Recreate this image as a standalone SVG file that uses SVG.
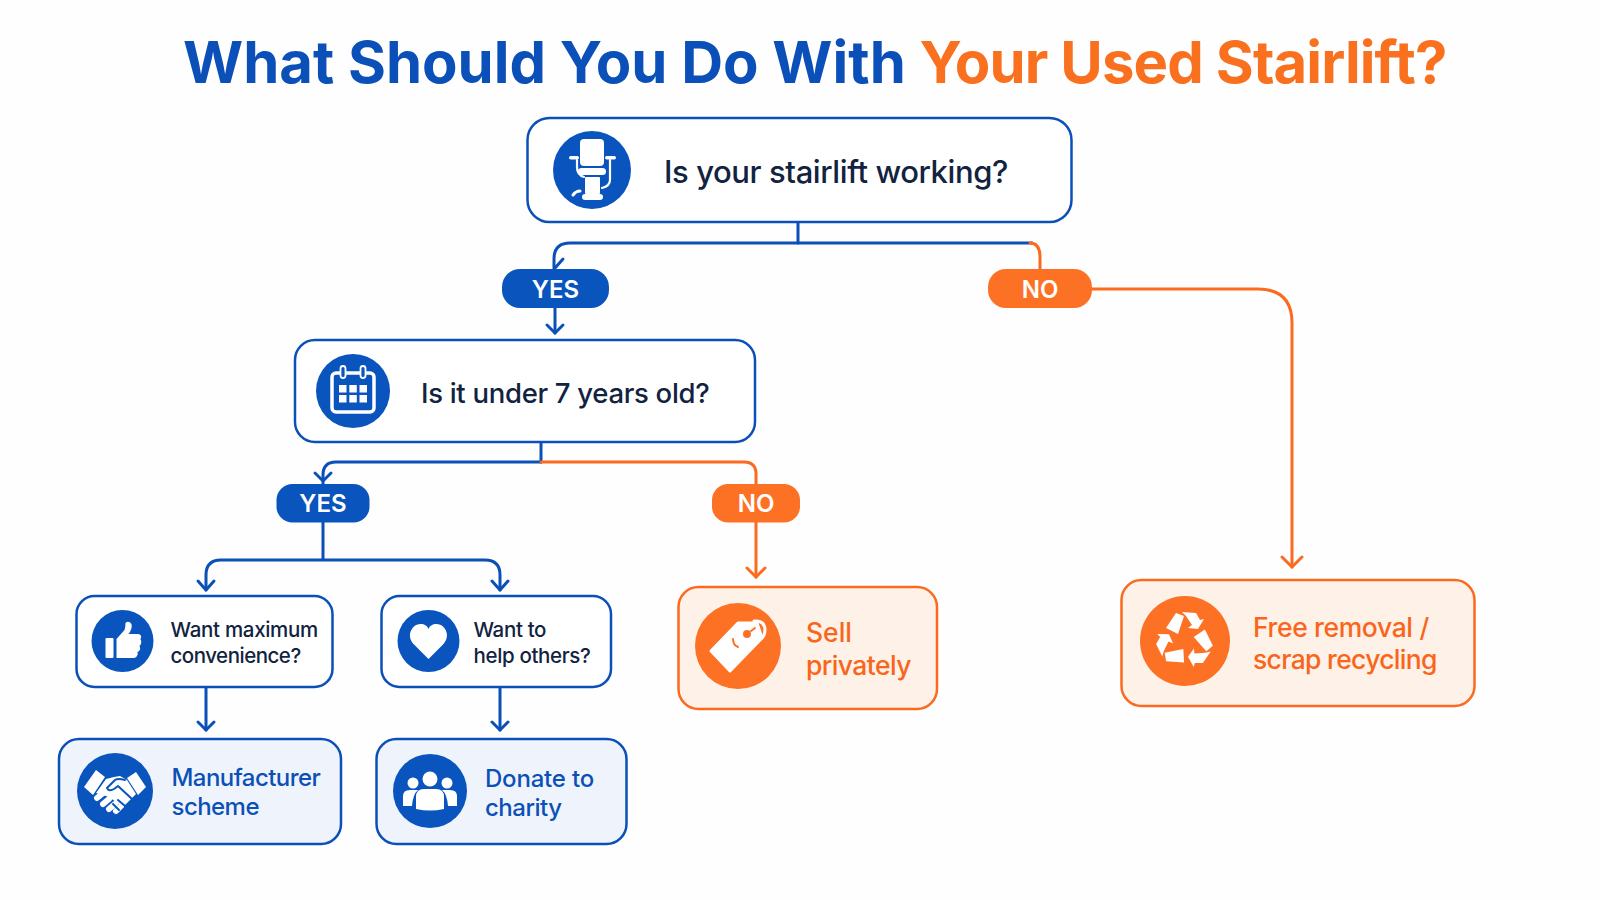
<svg xmlns="http://www.w3.org/2000/svg" width="1600" height="900" viewBox="0 0 1600 900">
<style>
text{font-family:"Inter","Noto Sans",sans-serif}
.title{font-size:58px;font-weight:700}
.q{font-weight:500;fill:#12233F}
.rb{font-weight:500;fill:#0B50B8}
.ro{font-weight:500;fill:#F9661B}
.pill{font-size:24px;font-weight:600;fill:#fff;text-anchor:middle}
.box{fill:#fff;stroke:#0B50B8;stroke-width:2.5}
.boxb{fill:#EFF4FC;stroke:#0B50B8;stroke-width:2.5}
.boxo{fill:#FEF1E8;stroke:#FB6A1E;stroke-width:2.5}
.cb{fill:#0A54BE}
.co{fill:#FD7125}
.w{fill:#fff}
.bl{fill:none;stroke:#0B50B8;stroke-width:3;stroke-linecap:round;stroke-linejoin:round}
.or{fill:none;stroke:#FB6A1E;stroke-width:3;stroke-linecap:round;stroke-linejoin:round}
.ws{fill:none;stroke:#fff;stroke-linecap:round;stroke-linejoin:round}
</style>
<defs>
<g id="rec"><path d="M-19,-12L-9,-27L-1,-24L-7,-6Z"/><path d="M-3,-28L11,-27L15,-20L19,-21L13,-11L3,-12L7,-15L1,-24Z"/></g>
</defs>
<rect width="1600" height="900" fill="#FEFEFE"/>
<text class="title" x="183" y="83"><tspan fill="#0B50B8">What Should You Do With </tspan><tspan fill="#F9701F" letter-spacing="-0.86">Your Used Stairlift?</tspan></text>
<g id="connectors">
<path class="bl" d="M798,222V243"/>
<path class="bl" d="M1032,243H570Q554,243 554,259V269"/>
<path class="bl" d="M563,259L555,268"/>
<path class="or" d="M1030,243Q1040,243 1040,257V270"/>
<path class="bl" d="M555,308V333"/>
<path class="bl" d="M547,325L555,333L563,325"/>
<path class="or" d="M1092,289H1258Q1292,289 1292,323V567"/>
<path class="or" d="M1282,557L1292,567L1302,557"/>
<path class="bl" d="M541,442V462"/>
<path class="bl" d="M541,462H336Q323,462 323,475V484"/>
<path class="bl" d="M315,473L323,481L331,473"/>
<path class="or" d="M541,462H744Q756,462 756,474V484"/>
<path class="or" d="M756,522V577"/>
<path class="or" d="M747,568L756,577L765,568"/>
<path class="bl" d="M323,522V559"/>
<path class="bl" d="M206,590V575Q206,560 221,560H485Q500,560 500,575V590"/>
<path class="bl" d="M198,581L206,590L214,581"/>
<path class="bl" d="M492,581L500,590L508,581"/>
<path class="bl" d="M206,687V730"/>
<path class="bl" d="M198,722L206,730L214,722"/>
<path class="bl" d="M500,687V730"/>
<path class="bl" d="M492,722L500,730L508,722"/>
</g>
<g id="n-working">
<rect class="box" x="527.5" y="118" width="544" height="104" rx="22"/>
<circle class="cb" cx="592" cy="170" r="39"/>
<g transform="translate(592,170)">
<rect class="w" x="-12" y="-31" width="24" height="27" rx="4"/>
<rect class="w" x="-23" y="-14" width="10" height="3.5" rx="1.7"/>
<rect class="w" x="13" y="-14" width="11" height="3.5" rx="1.700"/>
<rect class="w" x="-14" y="-2" width="28" height="7" rx="3.500"/>
<rect class="w" x="-7" y="7" width="15" height="17" rx="1"/>
<rect class="w" x="-10" y="24" width="21" height="6" rx="3"/>
<path class="ws" stroke-width="2.200" d="M-15,-10V-3Q-15,5 -8,7M18,-10V10Q18,16 10,18"/>
<path class="ws" stroke-width="3" d="M-19,25Q-16,21 -12,21"/>
</g>
<text class="q" x="664" y="183" font-size="31" letter-spacing="-0.4">Is your stairlift working?</text>
</g>
<g id="p-yes1"><rect class="cb" x="502" y="269" width="107" height="39" rx="18"/><text class="pill" x="555.5" y="297.500">YES</text></g>
<g id="p-no1"><rect class="co" x="988" y="269" width="104" height="39" rx="18"/><text class="pill" x="1040" y="297.500">NO</text></g>
<g id="n-age">
<rect class="box" x="295" y="340" width="460" height="102" rx="20"/>
<circle class="cb" cx="353" cy="391" r="37"/>
<g transform="translate(353,391)">
<rect x="-21" y="-18" width="42" height="39" rx="4" fill="none" stroke="#fff" stroke-width="3.500"/>
<rect class="cb" x="-12.500" y="-25" width="5" height="12" rx="2.500" stroke="#fff" stroke-width="1.800"/>
<rect class="cb" x="7.500" y="-25" width="5" height="12" rx="2.500" stroke="#fff" stroke-width="1.800"/>
<g class="w"><rect x="-14" y="-6" width="7.500" height="7.500"/><rect x="-3.700" y="-6" width="7.500" height="7.500"/><rect x="6.500" y="-6" width="7.500" height="7.500"/><rect x="-14" y="4" width="7.500" height="7.500"/><rect x="-3.700" y="4" width="7.500" height="7.500"/><rect x="6.500" y="4" width="7.500" height="7.500"/></g>
</g>
<text class="q" x="421" y="403" font-size="27.500" letter-spacing="-0.3">Is it under 7 years old?</text>
</g>
<g id="p-yes2"><rect class="cb" x="276.500" y="484" width="93" height="38.500" rx="16"/><text class="pill" x="323" y="512">YES</text></g>
<g id="p-no2"><rect class="co" x="712" y="484" width="88" height="38.500" rx="16"/><text class="pill" x="756" y="512">NO</text></g>
<g id="n-convenience">
<rect class="box" x="76.500" y="596" width="256" height="91" rx="18"/>
<circle class="cb" cx="122.500" cy="641" r="31"/>
<g transform="translate(122.500,641)" class="w">
<rect x="-17" y="-3" width="8" height="20" rx="1"/>
<path d="M-6,-2L2,-11Q3,-14 3,-18Q6,-21 9,-17Q10,-12 6,-7H16Q20,-6 18,-2Q20,2 17,5Q19,9 15,11Q16,15 12,17H-6Z"/>
</g>
<text class="q" x="170.500" y="637" font-size="20.500" letter-spacing="-0.3">Want maximum</text>
<text class="q" x="170.500" y="663" font-size="20.500" letter-spacing="-0.5">convenience?</text>
</g>
<g id="n-help">
<rect class="box" x="381.500" y="596" width="229.500" height="91" rx="18"/>
<circle class="cb" cx="428.500" cy="641" r="31"/>
<path class="w" transform="translate(428.500,641)" d="M0,18L-15,3C-23,-6 -16,-17 -8,-17C-4,-17 -1,-15 0,-12C1,-15 4,-17 8,-17C16,-17 23,-6 15,3Z"/>
<text class="q" x="473.500" y="637" font-size="20.500" letter-spacing="-0.35">Want to</text>
<text class="q" x="473.500" y="663" font-size="20.500" letter-spacing="-0.35">help others?</text>
</g>
<g id="n-manufacturer">
<rect class="boxb" x="59" y="739" width="282" height="105" rx="20"/>
<circle class="cb" cx="115" cy="791" r="38"/>
<g transform="translate(115,791)">
<path class="w" d="M-31,-4L-19,-21L-10,-14L-22,4ZM31,-4L21,-19L12,-13L23,4Z"/>
<path class="w" d="M-19,2L-9,-12L-1,-14L5,-15L12,-11L21,3L8,16L-6,6Z"/>
<g fill="none" stroke="#fff" stroke-width="6" stroke-linecap="round"><path d="M-18,7L-13,3"/><path d="M-12,13L-6,8"/><path d="M-6,18L0,13"/><path d="M1,20L6,15"/></g>
<path fill="none" stroke="#0A54BE" stroke-width="2" stroke-linecap="round" stroke-linejoin="round" d="M-8,-3L0,-11Q3,-13 10,-11M-8,-3Q-6,1 -1,-2L3,-5L17,8M10,15L3,9M4,19L-2,13"/>
</g>
<text class="rb" x="171.500" y="786" font-size="24" letter-spacing="-0.55">Manufacturer</text>
<text class="rb" x="171.500" y="815" font-size="24" letter-spacing="-0.55">scheme</text>
</g>
<g id="n-donate">
<rect class="boxb" x="376.500" y="739" width="250" height="105" rx="20"/>
<circle class="cb" cx="430" cy="791" r="37"/>
<g transform="translate(430,791)" class="w">
<circle cx="0" cy="-12" r="7.500"/><circle cx="-17" cy="-8" r="5.500"/><circle cx="17" cy="-8" r="5.500"/>
<path d="M-27,15V5Q-27,-1 -20,-1H-12Q-17,3 -18,15ZM27,15V5Q27,-1 20,-1H12Q17,3 18,15Z"/>
<path d="M-14,18V6Q-14,-2 -6,-2H6Q14,-2 14,6V18Q0,21 -14,18Z"/>
</g>
<text class="rb" x="485" y="787" font-size="24" letter-spacing="-0.2">Donate to</text>
<text class="rb" x="485" y="816" font-size="24" letter-spacing="-0.5">charity</text>
</g>
<g id="n-sell">
<rect class="boxo" x="678.500" y="587" width="258.500" height="122" rx="20"/>
<circle class="co" cx="738" cy="646" r="43"/>
<g transform="translate(738,646)">
<path class="w" stroke="#fff" stroke-width="3" stroke-linejoin="round" d="M-27,5L-8,25L24,-8L19,-23L0,-23Z"/>
<circle cx="9" cy="-12" r="4" fill="#FD7125"/>
<path d="M13,-15L17,-18M-5,-7Q-5,-1 0,1" stroke="#FD7125" stroke-width="2" fill="none" stroke-linecap="round"/>
<path class="ws" stroke-width="3" d="M16,-25Q26,-26 27,-17Q27,-9 22,-7"/>
</g>
<text class="ro" x="806" y="642" font-size="26.500">Sell</text>
<text class="ro" x="806" y="675" font-size="26.500" letter-spacing="-0.6">privately</text>
</g>
<g id="n-free">
<rect class="boxo" x="1121.500" y="580" width="353" height="126" rx="20"/>
<circle class="co" cx="1185" cy="641" r="45"/>
<g transform="translate(1185,640)" class="w">
<use href="#rec"/>
<use href="#rec" transform="rotate(120)"/>
<use href="#rec" transform="rotate(240)"/>
</g>
<text class="ro" x="1253" y="637" font-size="26.500" letter-spacing="-0.36">Free removal /</text>
<text class="ro" x="1253" y="669" font-size="26.500" letter-spacing="-0.68">scrap recycling</text>
</g>
</svg>
